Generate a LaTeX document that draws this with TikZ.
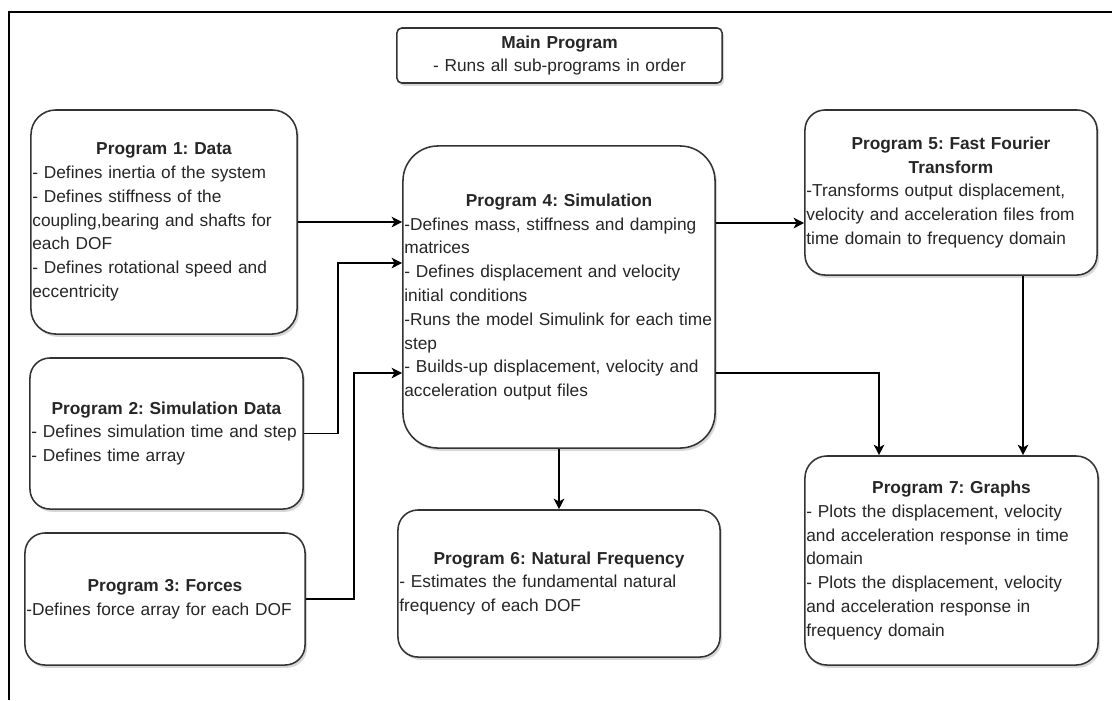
\documentclass[tikz,border=0pt]{standalone}
\usepackage{fontspec}
\setmainfont{Liberation Sans}
\usetikzlibrary{arrows.meta,shadows}
\frenchspacing
\def\ptitle#1{\noindent\makebox[\hsize][c]{\bfseries #1}}

\begin{document}
\begin{tikzpicture}[x=0.025cm, y=-0.025cm,
	prog/.style={draw=black!80, line width=1.1pt, fill=white, rounded corners=#1,
		drop shadow={shadow xshift=0.05cm, shadow yshift=-0.07cm, fill=black!35, opacity=0.45},
		inner xsep=1pt, inner ysep=0pt, align=left, text=black!85,
		font=\fontsize{12.3}{16.9}\selectfont},
	prog/.default=0.5cm,
	link/.style={line width=1pt, -{Stealth[length=7.5pt, width=7.5pt, inset=2pt]}}]
		%%%%% START %%%%%
		\useasboundingbox (0,0) rectangle (1112,700);
		
		\draw[line width=2pt] (1112,12) -- (9,12) -- (9,700);
		
		\node[prog=0.12cm, minimum width=8.125cm, minimum height=1.375cm, text width=8.05cm, align=center] (mainprog) at (559.5, 55.5)
			{\textbf{Main Program}\\- Runs all sub-programs in order};
		
		\node[prog=0.62cm, minimum width=6.65cm, minimum height=5.6cm, text width=6.58cm] (p1) at (164, 222)
			{\ptitle{Program 1: Data}\\
			- Defines inertia of the system\\
			- Defines stiffness of the\\
			coupling,bearing and shafts for\\
			each DOF\\
			- Defines rotational speed and\\
			eccentricity};
		
		\node[prog, minimum width=6.825cm, minimum height=3.775cm, text width=6.755cm] (p2) at (166.5, 433.5)
			{\ptitle{Program 2: Simulation Data}\\
			- Defines simulation time and step\\
			- Defines time array};
		
		\node[prog, minimum width=7cm, minimum height=3.3cm, text width=6.93cm] (p3) at (165, 599)
			{\ptitle{Program 3: Forces}\\
			-Defines force array for each DOF};
		
		\node[prog=0.875cm, minimum width=7.8cm, minimum height=7.55cm, text width=7.73cm] (p4) at (559, 297)
			{\ptitle{Program 4: Simulation}\\
			-Defines mass, stiffness and damping\\
			matrices\\
			- Defines displacement and velocity\\
			initial conditions\\
			-Runs the model Simulink for each time\\
			step\\
			- Builds-up displacement, velocity and\\
			acceleration output files};
		
		\node[prog, minimum width=7.3cm, minimum height=4.125cm, text width=7.23cm] (p5) at (951, 192.5)
			{\ptitle{Program 5: Fast Fourier}\\
			\ptitle{Transform}\\
			-Transforms output displacement,\\
			velocity and acceleration files from\\
			time domain to frequency domain};
		
		\node[prog, minimum width=8.05cm, minimum height=3.675cm, text width=7.98cm] (p6) at (559, 583.5)
			{\ptitle{Program 6: Natural Frequency}\\
			- Estimates the fundamental natural\\
			frequency of each DOF};
		
		\node[prog=0.55cm, minimum width=7.325cm, minimum height=5.225cm, text width=7.255cm] (p7) at (951.5, 560.5)
			{\ptitle{Program 7: Graphs}\\
			- Plots the displacement, velocity\\
			and acceleration response in time\\
			domain\\
			- Plots the displacement, velocity\\
			and acceleration response in\\
			frequency domain};
		
		% inputs into the simulation
		\draw[link] (p1.east) -- (p1.east -| p4.west);
		\draw[link] (p2.east) -- ++(34,0) |- (p4.west |- 0,263);
		\draw[link] (p3.east) -- ++(48,0) |- (p4.west |- 0,373);
		
		% outputs of the simulation
		\draw[link] (p4.east |- 0,223) -- (p5.west |- 0,223);
		\draw[link] (p4.east |- 0,373) -| (p7.north -| 879,0);
		\draw[link] (p5.south -| 1023,0) -- (p7.north -| 1023,0);
		\draw[link] (p4.south) -- (p6.north);
		
		%%%%% END %%%%%
\end{tikzpicture}
\end{document}
